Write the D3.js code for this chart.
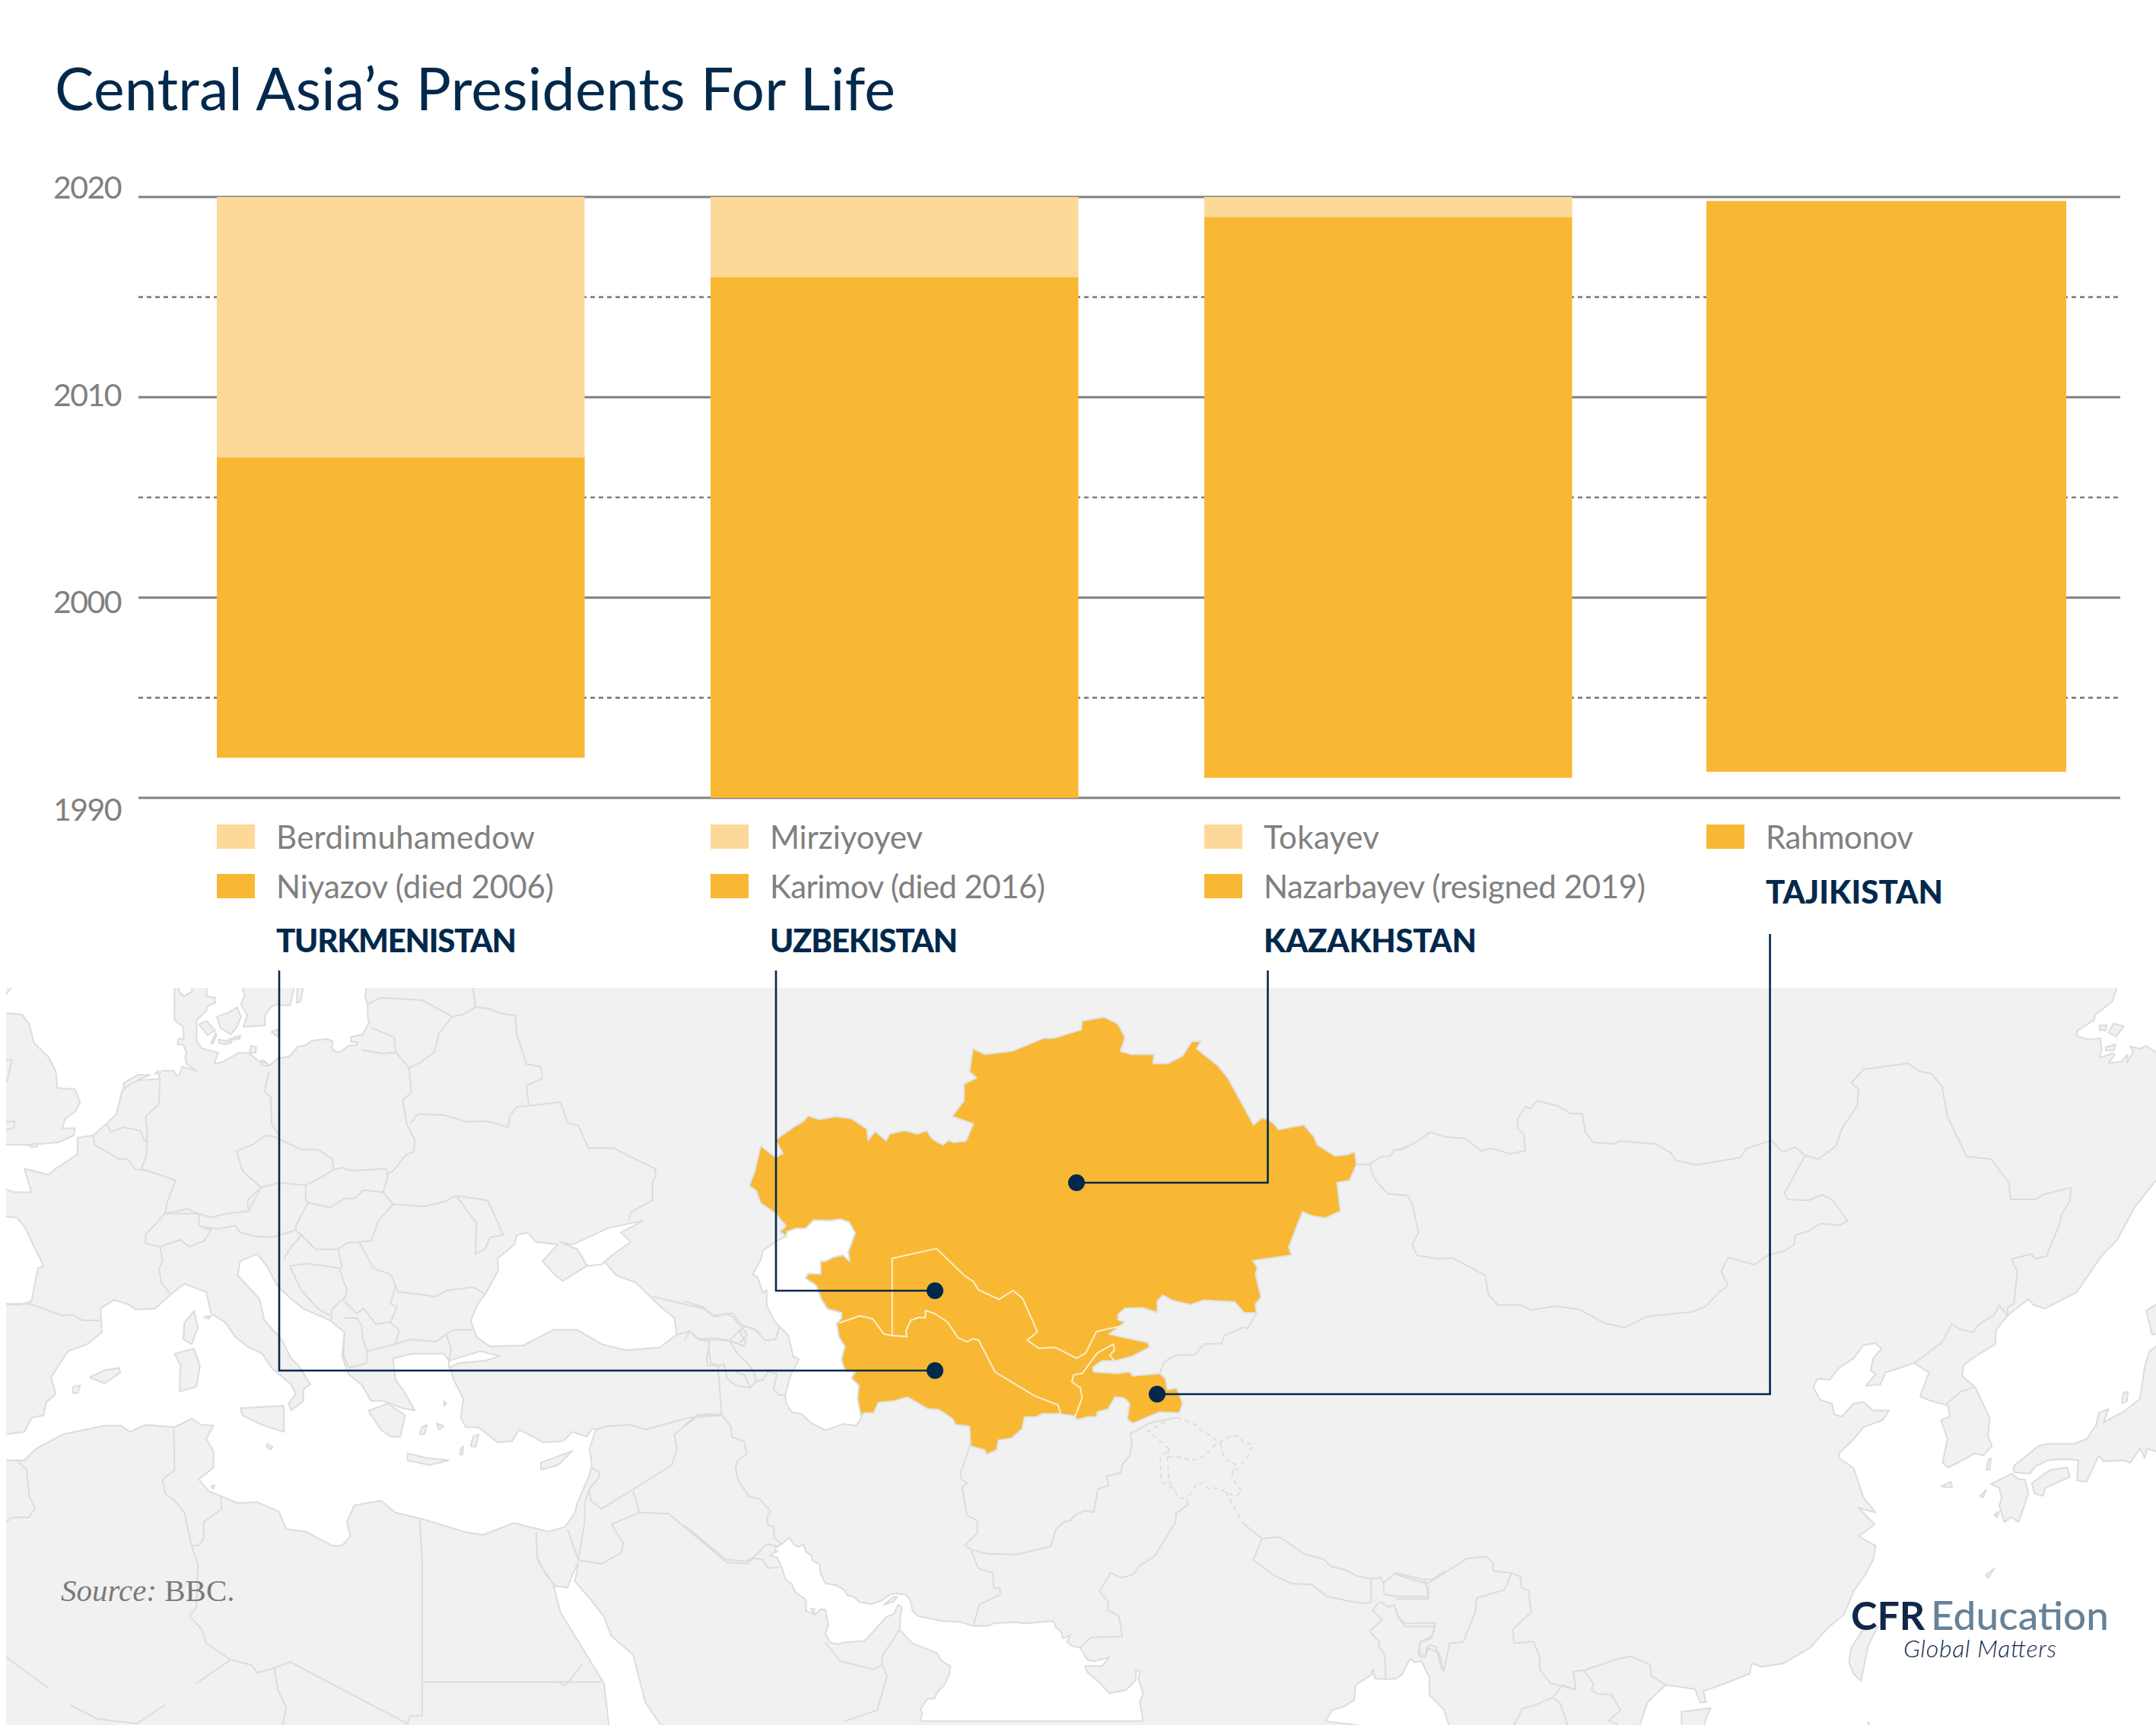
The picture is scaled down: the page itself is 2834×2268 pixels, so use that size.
<!DOCTYPE html>
<html><head><meta charset="utf-8">
<script src="https://cdn.jsdelivr.net/npm/d3@7/dist/d3.min.js"></script>
<style>html,body{margin:0;padding:0;background:#fff}svg{display:block}</style>
</head><body><svg id="c" width="2834" height="2268"></svg>
<script>
// ---------- chart values ----------
const countries=["TURKMENISTAN","UZBEKISTAN","KAZAKHSTAN","TAJIKISTAN"];
const firstLeaders=["Niyazov (died 2006)","Karimov (died 2016)","Nazarbayev (resigned 2019)","Rahmonov"];
const secondLeaders=["Berdimuhamedow","Mirziyoyev","Tokayev",null];
const startYears=[1992,1990,1991,1991.3];
const handoverYears=[2007,2016,2019,2019.8];
const endYears=[2020,2020,2020,null];
const solidTicks=[2020,2010,2000,1990];
const dashedTicks=[2015,2005,1995];
const titleText="Central Asia\u2019s Presidents For Life";

// ---------- map outlines per crop ----------
const frames={
 w:[0,1290,1.568,1.603], e:[1834,1290,1.568,1.603], s:[900,1750,1.568,3.03],
 m:[900,1300,1.65,2.412], nw:[200,1295,3,3], ne:[2600,1295,3,3]};
const seaNorth=[["w","40,14"],["nw","95,12 88,30 88,140 122,165 125,215 105,210 100,235 122,235 135,265 130,285 135,310 175,340 120,322 105,358 95,358 85,338 40,338 25,350 30,370"],
 ["w","270,210 252,230 240,280 220,300 192,325 160,330 160,365 115,395 100,408 50,395 65,445 30,445 13,430 13,345 30,345 60,345 120,340 152,325 155,310 128,310 135,290 155,275 165,255 155,228 118,225 115,190 100,160 70,130 60,90 45,70 13,65"]];
const seaBaltic=[["nw","215,12 215,45 250,50 250,70 215,85 215,100 175,140 175,218 195,250 260,268 245,310 275,305 340,268 380,268 420,300 440,298 462,318 495,290 540,282 575,243 605,238 630,220 690,213 712,222 708,250 725,265 745,262 775,240 808,237 808,225 785,225 785,205 830,195 855,150 850,125 850,75 840,50 850,12 603,12 585,65 570,70 575,12 568,12 545,80 510,80 500,75 470,85 445,120 445,160 360,165 375,120 350,75 365,40 345,12"]];
const seaNotch=[["nw","105,12 105,25 125,45 157,25 157,12"]];
const seaBiscay=[["w","13,495 35,498 52,520 68,555 90,600 78,605 65,675 40,682 13,680"]];
const seaMed=[["w","13,958 50,950 65,920 90,915 95,888 115,870 105,835 140,780 180,765 210,740 207,690 235,672 262,680 280,692 320,690 352,660 380,638 425,655 435,700 465,720 485,750 510,770 540,785 560,815 600,850 610,870 595,890 600,905 625,885 625,860 640,850 615,810 600,795 580,755 545,715 535,670 490,620 495,590 530,575 550,600 570,640 600,670 625,690 680,715 710,740 705,790 715,820 720,830 745,850 765,885 790,885 830,900 855,905 830,860 815,840 810,795 850,785 915,785 925,800 935,840 955,880 950,920 960,940 985,940 1005,955 1025,972 1055,970 1070,945 1120,972 1160,970 1180,950 1210,960 1220,943 1228,945 1215,985 1220,1020 1215,1040 1190,1100 1185,1120 1165,1150 1130,1160 1060,1142 995,1167 955,1160 875,1135 815,1120 785,1095 730,1105 715,1140 722,1170 705,1190 685,1190 630,1160 590,1155 575,1118 530,1098 490,1100 455,1085 430,1075 410,1050 440,1025 440,990 425,965 440,937 415,935 395,922 360,940 300,935 268,950 250,937 215,937 130,955 75,985 50,1010 13,1010"]];
const seaBlack=[["w","1000,660 1027,610 1025,585 1060,555 1065,535 1088,530 1105,550 1150,555 1118,590 1145,620 1160,632 1210,600 1238,595 1245,590 1270,620 1310,635 1360,685 1390,710 1395,745 1360,772 1290,778 1240,765 1190,735 1140,735 1078,768 1010,770 982,750 970,715 985,680"]];
const seaAzov=[["w","1155,550 1180,555 1255,520 1325,505 1280,530 1300,550 1265,575 1240,597 1210,600 1190,565"]];
const seaMarmara=[["w","925,800 990,780 1030,790 1000,800 945,805 925,815"]];
const seaCaspian=[["m","280,733 315,735 337,730 357,740 370,775 355,835 358,865 343,845 322,852 305,865 295,865 295,905 268,903 262,918 285,940 297,985 310,1015 340,1027 340,1045 330,1062 335,1105 348,1135 340,1175 348,1210 370,1215 362,1235 378,1258 375,1300 383,1360 372,1385 345,1380 305,1400 272,1375 255,1350 232,1342 220,1315 218,1288 230,1225 248,1175 235,1165 225,1100 195,1055 178,1005 178,955 170,965 158,915 148,905 165,860 170,830 200,800 220,785 222,770 240,760 262,760"]];
const seaRed=[["w","1105,1210 1125,1250 1145,1275 1170,1278 1180,1250 1192,1225 1185,1265 1215,1300 1245,1340 1260,1380 1305,1420 1320,1480 1330,1520 1380,1568 1258,1568 1245,1480 1200,1405 1155,1330 1140,1270 1110,1225"]];
const seaArabian=[["s","185,880 190,855 200,850 215,822 225,850 235,860 245,850 250,880 262,895 263,915 278,930 280,965 290,1005 310,1012 328,1030 335,1052 350,1060 360,1080 385,1088 410,1070 420,1052 435,1045 455,1050 465,1072 470,1115 480,1135 530,1155 570,1160 595,1175 625,1175 635,1165 680,1160 700,1165 760,1155 765,1180 775,1195 780,1225 795,1210 788,1240 800,1255 815,1262 830,1310 845,1315 875,1300 860,1335 825,1335 830,1360 855,1400 875,1443 910,1430 930,1390 930,1350 938,1355 935,1385 945,1445 938,1480 945,1554 485,1554 490,1520 485,1510 500,1465 515,1465 520,1440 535,1410 545,1370 548,1335 530,1315 520,1283 470,1245 443,1190 445,1130 448,1100 440,1090 432,1125 415,1140 385,1205 370,1235 330,1240 315,1248 300,1240 290,1205 296,1170 290,1110 280,1108 268,1130 250,1115 250,1070 228,1040 220,1005 208,990 200,940 190,900 175,895 192,875"]];
const seaBengal=[["s","1320,1554 1335,1510 1360,1495 1380,1470 1383,1410 1415,1370 1418,1348 1423,1385 1445,1388 1465,1385 1478,1370 1495,1305 1505,1320 1518,1315 1535,1380 1535,1450"],["e","100,1535 120,1568"]];
const seaOkhotsk=[["ne","560,12 530,65 462,118 458,138 390,182 392,202 435,215 483,210 488,255 478,287 530,270 540,275 515,308 565,303 590,275 588,305 612,265 600,243 640,252 662,240 702,295 702,12"]];
const seaEast=[["e","1568,390 1560,430 1525,475 1488,545 1455,580 1405,655 1340,690 1315,682 1305,670 1262,705 1238,735 1237,765 1205,785 1172,808 1168,832 1195,855 1225,920 1222,960 1230,980 1212,1000 1195,995 1165,1012 1140,1025 1128,1015 1138,965 1125,925 1143,918 1140,895 1135,893 1105,885 1082,875 1100,825 1070,805 1010,825 1000,850 970,853 990,828 980,820 985,795 1002,775 990,763 965,767 945,795 915,815 895,840 870,838 862,855 875,882 900,890 905,913 920,918 945,890 965,887 985,905 1018,905 1005,925 965,940 945,965 915,995 915,1005 945,1027 965,1088 990,1120 955,1110 988,1145 975,1155 955,1170 990,1190 985,1220 968,1252 945,1285 925,1335 895,1360 875,1382 855,1405 800,1438 755,1445 735,1438 730,1460 680,1480 640,1495 635,1495 640,1520 628,1520 618,1492 558,1483 545,1495 520,1520 495,1568 1568,1568"]];
const seas=[seaNorth,seaBaltic,seaNotch,seaBiscay,seaMed,seaBlack,seaAzov,seaMarmara,seaCaspian,seaRed,seaArabian,seaBengal,seaOkhotsk,seaEast];

const islands=[
 ["nw","255,125 300,110 335,88 350,125 335,165 310,195 270,170"],["nw","185,155 215,142 248,180 218,198"],
 ["nw","232,230 250,190 253,200 240,230"],["nw","262,215 297,222 295,235 265,230"],["nw","300,215 318,212 308,232"],
 ["nw","322,207 348,200 345,212 325,215"],["nw","470,185 497,175 497,205"],["nw","390,240 410,245 408,268 385,268"],
 ["nw","428,305 455,308 457,320 430,315"],["nw","12,350 25,338 22,348 10,352"],
 ["w","13,170 25,165 15,210 13,210"],["w","13,300 30,295 28,310 13,320"],["w","60,345 78,342 76,349 62,349"],
 ["w","255,215 285,197 310,198 290,205 265,220 255,228"],
 ["w","380,720 400,695 408,730 395,765 378,755"],["w","360,785 400,775 412,810 405,855 370,865 372,810"],
 ["w","495,900 585,895 585,950 540,935 500,915"],["w","185,835 215,820 245,815 248,825 215,848"],["w","150,855 165,852 160,868 150,868"],
 ["w","760,905 800,890 835,915 825,960 805,960 785,945 765,915"],["w","840,995 880,1005 925,1010 885,1020 840,1010"],
 ["w","1115,1015 1180,990 1150,1020 1115,1030"],["w","950,985 955,980 953,998 948,998"],["w","975,960 987,955 980,982 970,980"],
 ["w","870,940 880,935 875,955 865,955"],["w","900,932 915,938 905,945"],["w","915,885 920,890 915,895"],
 ["w","420,708 435,705 430,712"],["w","550,975 562,982 558,987 550,982"],["w","435,1065 442,1062 440,1070"],
 ["e","1275,1022 1325,980 1345,975 1400,975 1425,965 1445,935 1450,910 1470,902 1460,930 1505,905 1535,880 1545,810 1555,780 1568,750 1568,1000 1550,985 1545,1005 1535,985 1515,1015 1500,1010 1460,1012 1450,1000 1425,1055 1405,1052 1408,1010 1380,1007 1345,1010 1320,1022 1308,1038 1275,1035"],
 ["e","1568,665 1548,695 1560,745 1568,740"],["e","1312,1058 1350,1030 1385,1025 1390,1045 1340,1068 1335,1085 1318,1080"],
 ["e","1228,1060 1270,1038 1285,1050 1298,1050 1305,1080 1285,1140 1270,1130 1255,1140 1245,1105 1250,1090 1245,1068"],
 ["e","1125,1065 1145,1055 1148,1067"],["e","1222,1010 1228,1005 1225,1030 1218,1030"],["e","1500,868 1510,865 1508,885 1498,890"],
 ["e","962,1370 995,1360 975,1400 960,1475 945,1460 935,1435 940,1405"],["e","1218,1250 1235,1238 1222,1258"],
 ["e","590,1540 650,1532 640,1555 630,1568 590,1568"],["e","975,1562 985,1565 980,1568"],
 ["e","1205,1085 1218,1072 1212,1088"],["e","1235,1125 1245,1118 1240,1130"],
 ["ne","480,160 508,158 503,180 480,178"],["ne","535,152 575,163 545,203 513,188"],["ne","505,245 542,235 537,258 503,258"],
 ["s","410,1090 432,1058 438,1060 430,1078"],["s","260,1105 268,1108 266,1130"]];

const borders=[
 // Europe
 ["w","13,680 60,680 130,705 150,703 170,715 205,715"],
 ["w","192,325 195,345 245,375 262,375 280,397 305,400 362,420 345,465 340,490 300,535 300,552 330,560 335,590 328,605 332,635 352,660"],
 ["w","220,300 228,318 255,308 290,315 297,335 303,340 303,310 300,285 327,260 330,205"],["w","305,400 292,395 302,365 303,340"],
 ["w","330,560 372,545 390,560 420,548 435,525 410,515 410,490 340,490"],["w","340,490 385,480 410,490 435,498 465,490 512,485 510,462 538,435 500,400 487,358 520,345 548,325 575,330"],
 ["w","555,190 545,232 558,245 560,300 575,325"],["w","420,518 450,522 485,515 495,530 527,538 560,540 608,525 622,535 650,565 697,565 715,552 740,550"],
 ["w","512,485 538,435 575,425 630,430 660,415 688,397 705,393 725,400 795,395 800,408 790,445"],
 ["w","575,333 620,355 655,355 685,375 688,397"],
 ["w","816,150 843,183 848,235 830,250 838,300 855,335 853,360 838,365 810,400 795,408"],
 ["w","845,300 862,280 915,282 960,296 1005,295 1048,308 1050,285 1065,265 1095,262 1155,255 1170,298 1192,305 1213,352 1265,352 1295,368 1350,395 1352,412 1345,422 1345,462 1300,487 1296,505"],
 ["w","932,75 905,110 895,150 865,172 843,183"],["w","932,75 955,70 980,55 1010,58 1030,68 1062,72 1065,112 1085,175 1115,180 1118,205 1085,220 1090,262"],
 ["w","755,50 785,35 870,40 932,75"],["w","975,14 980,55"],["w","745,145 790,153 816,150 812,118 765,98"],
 ["w","940,452 1005,462 1020,495 1037,535 1010,540 1000,565 980,575 982,510 940,452"],["w","810,470 875,475 915,465 940,452"],
 ["w","790,445 810,470 780,505 765,547 740,550"],["w","630,430 630,460 635,467 680,477 710,458 730,458 750,440 790,445"],
 ["w","635,467 610,515 610,527 622,535 600,560 585,585"],["w","597,600 635,595 700,605 707,630 715,650 712,665 685,690 682,715"],["w","697,565 705,605"],
 ["w","597,600 620,650 655,690 680,705"],["w","740,550 770,605 805,618 815,640 805,680 818,685 805,720"],
 ["w","707,672 735,700 750,690 775,723 805,718"],["w","710,710 735,710 745,725 748,755 757,780 815,765 823,735 805,720"],
 ["w","710,740 708,790 720,815 755,805 757,780"],["w","815,765 845,755 900,760 918,745 935,735 975,735"],["w","815,640 820,655 865,660 897,665 920,652 975,645 1000,660"],
 ["w","920,745 930,775 925,800"],
 // Middle East and Africa
 ["w","1228,945 1250,938 1300,935 1330,945 1420,920 1487,915"],["w","1345,665 1450,690 1470,705 1510,700 1530,725 1568,740"],
 ["w","1395,745 1422,738 1440,755 1500,757 1535,770"],["w","1530,730 1540,745 1525,762"],["w","1460,770 1465,805 1485,812"],
 ["w","1487,915 1462,912 1440,915 1390,955 1395,985 1385,1020 1240,1112 1218,1095 1215,1070"],
 ["w","1305,1075 1318,1120 1378,1122 1498,1225 1540,1228 1568,1200"],["w","1318,1120 1260,1145 1285,1185 1280,1205 1240,1228 1192,1220"],
 ["w","1218,1025 1235,1035 1235,1045 1215,1070 1205,1100 1205,1140 1192,1220"],["w","1170,1155 1192,1220"],
 ["w","1105,1160 1107,1210"],
 ["w","865,1135 870,1220 870,1477 1240,1477"],["w","1150,1477 1165,1485 1200,1440"],
 ["w","358,945 360,1030 335,1050 340,1080 360,1095 380,1120 395,1190 408,1190 420,1175 420,1140 457,1112 455,1085"],
 ["w","395,1190 408,1230 405,1320 390,1338 415,1365 425,1395 475,1430 520,1442 530,1458 565,1448 598,1435 840,1565 845,1548 870,1548 870,1477"],
 ["w","475,1430 405,1480"],["w","340,1525 283,1565 200,1555 145,1525"],["w","13,1425 100,1490"],["w","565,1448 573,1495 590,1530 583,1568"],
 ["w","35,1010 55,1030 60,1085 72,1110 60,1130 25,1130 13,1140"],
 // Caucasus and Iran
 ["m","0,990 40,1010 65,1040 90,1030 105,1042 120,1068 150,1078 175,1115 197,1112 205,1075"],
 ["m","0,1115 10,1085 28,1110 65,1108 97,1115 125,1075 120,1090 133,1120 128,1132 97,1115 118,1165 135,1183 150,1215 155,1245 142,1265 110,1257 92,1235 85,1190 72,1195 50,1195 48,1170 55,1120 28,1110"],
 ["m","155,1245 170,1240 180,1215 200,1220 193,1268 205,1288 218,1288"],["m","110,1215 130,1225 142,1265"],["m","72,1195 80,1350"],
 ["s","0,375 25,335 60,337 75,330 95,380 97,422 123,440 128,490 110,515 105,545 110,595 133,660 153,668 177,717 170,745 172,772 183,778 185,825 200,850"],
 ["s","0,775 85,910 125,918 140,905 170,848 195,860"],["s","140,905 160,910 172,945 195,940"],
 ["s","290,1240 320,1315 388,1348 407,1330 407,1295 443,1190"],["s","407,1330 417,1375 397,1510 330,1554"],
 ["s","588,455 568,570 570,590 582,605 572,625 582,735 603,755 603,805 578,852 590,870 605,945 635,965 637,1025 650,1025 650,1050 607,1090 595,1175"],
 ["s","1015,345 960,365 918,410 922,445 917,497 903,530 898,565 870,578 873,615 852,630 843,722 823,716 803,735 795,755 782,760 765,790 755,857 685,890 622,887 590,870"],
 ["s","1035,670 1037,692 1013,725 1012,760 970,893 935,940 925,970 900,983 878,963 855,1038 873,1078 872,1112 895,1135 902,1217 838,1220 815,1262"],
 ["s","1150,765 1190,827 1172,912 1218,977 1252,1007 1292,1010 1325,1058 1375,1078 1408,1085 1415,1075 1415,988 1435,982 1440,1005 1465,963 1522,990 1540,990 1568,955"],
 ["s","1190,827 1225,820 1277,888 1318,910 1332,938 1362,952 1385,975 1415,988"],
 ["s","1440,1005 1442,1050 1470,1058 1532,1058 1530,1018 1522,990"],
 ["s","1418,1112 1430,1082 1437,1082 1450,1100 1462,1093 1472,1140 1485,1165 1548,1163 1540,1215 1515,1238 1515,1285 1528,1292 1535,1250 1548,1258 1560,1345 1568,1350"],
 ["s","1418,1112 1438,1150 1412,1195 1432,1240 1430,1255 1443,1290 1445,1388"],
 // Central Asia neighbours, Russia, China, Mongolia
 ["m","1240,1030 1220,1078 1212,1073 1170,1100 1165,1125 1125,1127 1108,1160 1065,1162 1040,1183 1030,1220"],
 ["m","1457,557 1485,557 1510,533 1530,530 1540,510 1555,508 1568,497"],["m","1485,557 1498,607 1525,650 1568,655"],
 ["e","0,355 15,355 50,335 72,318 102,328 145,332 178,358 197,352 236,364 268,358 265,322 252,310 252,290 268,265 280,268 292,252 335,263 362,279 385,279 392,318 408,340 448,343 463,337 537,343 568,362 578,378 622,387 712,372 722,354 775,335 799,360 824,350 845,367 872,375 908,348 920,312 952,262 955,228 940,214 965,186 1057,173 1080,190 1105,195 1127,222 1138,285 1178,370 1228,375 1265,425 1268,460 1320,460 1335,450 1393,435 1390,465 1373,492 1370,510 1342,580 1320,585 1310,575 1270,586 1282,612 1275,680 1262,688 1262,705"],
 ["e","845,367 802,448 810,460 852,462 880,450 902,462 932,505 918,514 876,511 852,527 824,535 822,555 800,570 770,576 740,598 686,582 672,612 686,642 668,655 640,685 612,697 522,706 472,730 430,720 380,692 330,685 280,693 258,682 212,683 192,660 185,620 118,583 88,585 45,578 35,555 48,530 35,470 25,452 0,450"],
 ["e","1070,805 1128,760 1147,722 1162,733 1192,740 1200,725 1235,703 1245,683 1262,705"],["e","1135,893 1165,865 1195,855"],
 ["e","0,1250 58,1268 70,1268 148,1217 187,1213 202,1225 202,1243 240,1247 258,1255 260,1278 275,1285 280,1330 242,1367 245,1395 285,1392 298,1425 298,1450 320,1480 372,1493 367,1455 390,1452 420,1442 460,1428 485,1423 525,1440 528,1465 558,1483"],
 ["e","0,1302 68,1302 68,1275"],["e","168,1300 225,1283 240,1247"],
 ["e","168,1300 165,1330 140,1393 112,1395 100,1455 90,1415 65,1405 62,1425 48,1422 50,1395 75,1385 82,1360 20,1360 5,1340 0,1320"],
 ["e","345,1483 325,1510 285,1527 262,1533 245,1568"],["e","345,1483 372,1493"],["e","325,1510 340,1522 355,1568"],
 ["e","388,1452 408,1480 405,1495 420,1503 445,1503 465,1537 440,1558 460,1568"]];
const dashedBorders=[
 ["s","1015,345 1050,370 1065,395 1090,425 1105,450"],["s","990,360 955,400 975,430 998,470 980,510 982,600 1010,630 1015,660 1035,670"],
 ["s","998,470 995,500 1030,505 1040,518 1070,500 1095,450 1130,415 1145,420 1150,445 1170,450 1160,500 1140,550 1128,560 1130,590 1148,640 1135,660 1115,640 1095,625 1080,630 1068,605 1055,610 1045,640 1035,670"],
 ["s","995,500 998,600 1010,630"],["s","1115,640 1150,765"],["s","1105,450 1112,510 1135,530 1128,560"]];

const centralAsia=["m","197,480 235,440 258,420 268,403 292,415 328,405 362,412 395,445 398,480 413,452 437,482 445,460 477,450 505,460 525,450 538,478 560,495 573,480 583,487 610,483 626,428 580,405 606,355 606,302 633,283 618,263 625,190 652,208 712,197 778,157 800,157 860,130 862,102 910,90 940,112 955,155 945,198 968,208 1018,208 1016,237 1048,237 1080,213 1100,167 1120,167 1110,190 1157,245 1178,283 1234,432 1252,410 1265,415 1278,428 1288,447 1343,432 1365,470 1372,495 1410,530 1435,527 1453,517 1457,557 1442,608 1415,615 1422,705 1390,727 1360,720 1340,707 1310,820 1316,845 1232,862 1242,885 1238,905 1250,978 1238,1000 1240,1028 1213,1027 1193,993 1125,988 1097,1002 1058,988 1037,972 1025,990 1025,1027 993,1012 955,1013 940,1033 940,1050 955,1057 920,1095 1005,1122 1008,1137 968,1167 933,1180 905,1180 885,1200 887,1215 937,1220 965,1215 972,1228 1030,1220 1042,1235 1047,1272 1067,1267 1080,1315 1073,1345 1030,1342 972,1378 960,1365 965,1315 952,1297 933,1295 918,1333 895,1342 893,1358 875,1357 850,1367 847,1355 815,1348 775,1348 762,1358 737,1358 732,1395 710,1425 680,1432 677,1462 655,1477 650,1462 620,1450 618,1388 587,1382 582,1365 552,1335 527,1332 483,1295 455,1307 420,1312 410,1345 388,1345 383,1358 375,1300 378,1258 362,1235 370,1215 348,1210 340,1175 348,1135 335,1105 330,1062 340,1045 340,1027 310,1015 297,985 285,940 262,918 268,903 295,905 295,865 305,865 322,852 343,845 358,865 355,835 370,775 357,740 337,730 315,735 280,733 262,760 240,760 222,770 220,785 207,770 220,752 197,712 165,680 155,640 140,625 152,580 165,498 197,535 213,522"];
const innerBorders=[
 "335,1060 380,1037 408,1047 432,1095 450,1100 482,1103 480,1085 490,1052 508,1042 522,1043 522,1020 542,1030 570,1057 593,1107 613,1120 625,1110 637,1113 673,1215 760,1292 810,1320 815,1348",
 "450,1100 450,855 546,824 607,910 626,928 637,955 682,985 712,957 733,982 765,1088 743,1115 768,1140 803,1137 850,1172 870,1155 893,1087 945,1070",
 "847,1355 862,1298 858,1265 840,1247 843,1225 862,1220 895,1155 930,1127 932,1147 922,1162 932,1180"];

// leader lines: start on the label column, run down and across to the dot
const leaderRoutes=[
 {x:367,top:1276,dotX:1229,dotY:1802},{x:1020,top:1276,dotX:1229,dotY:1697},
 {x:1666.5,top:1276,dotX:1415,dotY:1555},{x:2326.6,top:1228,dotX:1521,dotY:1833}];

// measured label widths so that the substitute font spans what the original spans
const firstWidths=[365,362,502,194], secondWidths=[340,201,152,0], countryWidths=[316,247,280,233];

// ---------- helpers ----------
const toPts=(f,str)=>{const [x0,y0,sx,sy]=frames[f];
 const X=d3.scaleLinear().domain([0,sx]).range([x0,x0+1]),Y=d3.scaleLinear().domain([0,sy]).range([y0,y0+1]);
 return str.trim().split(/\s+/).map(p=>{const [a,b]=p.split(",").map(Number);return [X(a),Y(b)];});};
// push any vertex on the map's edge out past the clip so the edge never draws as a coast
const pushOut=pts=>pts.map(([a,b])=>[a<=9?-10:a>=2833?2850:a, b<=1300?1285:b>=2266?2285:b]);
const ring=parts=>pushOut(parts.flatMap(([f,s])=>toPts(f,s)));
const line=d3.line(), closed=d3.line().curve(d3.curveLinearClosed);

const svg=d3.select("#c");
const NAVY="#02294c",GREY="#808080",ORANGE="#f8b833",PALE="#fcd999",LAND="#f1f1f1",EDGE="#dcdcdc";
const SANS="Lato, 'Noto Sans', sans-serif";

// ---------- scales ----------
const y=d3.scaleLinear().domain([1990,2020]).range([1049,259]);
const tickLabelY=d3.scaleLinear().domain([1990,2020]).range([1079,261]);
const x=d3.scaleBand().domain(countries).range([285,2715.5]).paddingInner(0.255).paddingOuter(0);
const colShift=d=>d==="TAJIKISTAN"?11:0;
const colWidth=d=>d==="TAJIKISTAN"?473:x.bandwidth();

// ---------- map ----------
const mapG=svg.append("g");
svg.append("defs").append("clipPath").attr("id","mapClip").append("rect").attr("x",8).attr("y",1299).attr("width",2826).attr("height",969);
mapG.attr("clip-path","url(#mapClip)");
mapG.append("rect").attr("x",8).attr("y",1299).attr("width",2826).attr("height",969).attr("fill",LAND);
mapG.selectAll("path.sea").data(seas).join("path").attr("class","sea")
 .attr("d",d=>closed(ring(d))).attr("fill","#fff").attr("stroke",EDGE).attr("stroke-width",2).attr("stroke-linejoin","round");
mapG.selectAll("path.isle").data(islands).join("path").attr("class","isle")
 .attr("d",d=>closed(pushOut(toPts(d[0],d[1])))).attr("fill",LAND).attr("stroke",EDGE).attr("stroke-width",2).attr("stroke-linejoin","round");
mapG.selectAll("path.bd").data(borders).join("path").attr("class","bd")
 .attr("d",d=>line(toPts(d[0],d[1]))).attr("fill","none").attr("stroke",EDGE).attr("stroke-width",2).attr("stroke-linejoin","round");
mapG.selectAll("path.dash").data(dashedBorders).join("path").attr("class","dash")
 .attr("d",d=>line(toPts(d[0],d[1]))).attr("fill","none").attr("stroke",EDGE).attr("stroke-width",1.8).attr("stroke-dasharray","6,5");
mapG.append("path").attr("d",closed(toPts(centralAsia[0],centralAsia[1]))).attr("fill",ORANGE)
 .attr("stroke","#dfe1e6").attr("stroke-width",2).attr("stroke-linejoin","round");
mapG.selectAll("path.inner").data(innerBorders).join("path").attr("class","inner")
 .attr("d",d=>line(toPts("m",d))).attr("fill","none").attr("stroke","#fbeed0").attr("stroke-width",2).attr("stroke-linejoin","round");

// ---------- grid ----------
svg.selectAll("line.solid").data(solidTicks).join("line").attr("class","solid")
 .attr("x1",182).attr("x2",2787).attr("y1",y).attr("y2",y).attr("stroke",GREY).attr("stroke-width",3);
svg.selectAll("line.dash").data(dashedTicks).join("line").attr("class","dash")
 .attr("x1",182).attr("x2",2787).attr("y1",y).attr("y2",y).attr("stroke",GREY).attr("stroke-width",2.6).attr("stroke-dasharray","6,5");
svg.selectAll("text.tick").data(solidTicks).join("text").attr("class","tick")
 .attr("x",70).attr("y",tickLabelY).attr("fill",GREY).attr("font-family",SANS).attr("font-size",41).attr("letter-spacing",-1.5).text(d=>d);

// ---------- bars ----------
const rows=countries.map((c,i)=>({c,i,start:startYears[i],hand:handoverYears[i],end:endYears[i]}));
svg.selectAll("rect.second").data(rows.filter(r=>r.end!==null)).join("rect").attr("class","second")
 .attr("x",d=>x(d.c)+colShift(d.c)).attr("width",d=>colWidth(d.c))
 .attr("y",d=>y(d.end)).attr("height",d=>y(d.hand)-y(d.end)).attr("fill",PALE);
svg.selectAll("rect.first").data(rows).join("rect").attr("class","first")
 .attr("x",d=>x(d.c)+colShift(d.c)).attr("width",d=>colWidth(d.c))
 .attr("y",d=>y(d.hand)).attr("height",d=>y(d.start)-y(d.hand)).attr("fill",ORANGE);

// ---------- legends ----------
const rowY=[1116,1181], capY=1252, tajCapY=1188;
rows.forEach(r=>{
 const lx=x(r.c)+colShift(r.c);
 const two=secondLeaders[r.i]!==null;
 const entries=two?[[secondLeaders[r.i],PALE,rowY[0],secondWidths[r.i]],[firstLeaders[r.i],ORANGE,rowY[1],firstWidths[r.i]]]:[[firstLeaders[r.i],ORANGE,rowY[0],firstWidths[r.i]]];
 entries.forEach(([t,col,by,w])=>{
  svg.append("rect").attr("x",lx).attr("y",by-32).attr("width",50).attr("height",32).attr("fill",col);
  svg.append("text").attr("x",lx+78).attr("y",by).attr("fill",GREY).attr("font-family",SANS).attr("font-size",42)
   .attr("textLength",w).attr("lengthAdjust","spacing").text(t);
 });
 svg.append("text").attr("x",lx+78).attr("y",two?capY:tajCapY).attr("fill",NAVY).attr("font-family",SANS)
  .attr("font-weight",900).attr("font-size",42).attr("textLength",countryWidths[r.i]).attr("lengthAdjust","spacing").text(r.c);
});

// ---------- leaders ----------
svg.selectAll("path.leader").data(leaderRoutes).join("path").attr("class","leader")
 .attr("d",d=>line([[d.x,d.top],[d.x,d.dotY],[d.dotX,d.dotY]])).attr("fill","none").attr("stroke",NAVY).attr("stroke-width",2.6);
svg.selectAll("circle.dot").data(leaderRoutes).join("circle").attr("class","dot")
 .attr("cx",d=>d.dotX).attr("cy",d=>d.dotY).attr("r",11).attr("fill",NAVY);

// ---------- text ----------
svg.append("text").attr("x",72).attr("y",145).attr("fill",NAVY).attr("font-family",SANS).attr("font-size",77).attr("textLength",1105).attr("lengthAdjust","spacing").text(titleText);
const src=svg.append("text").attr("x",80).attr("y",2105).attr("fill","#7a7a7a").attr("font-family","'Liberation Serif', serif").attr("font-size",41);
src.append("tspan").attr("font-style","italic").text("Source:");
src.append("tspan").text(" BBC.");
svg.append("text").attr("x",2433).attr("y",2143).attr("font-family",SANS).attr("font-size",52).attr("font-weight",700).attr("fill","#11274a").text("CFR");
svg.append("text").attr("x",2538).attr("y",2143).attr("font-family",SANS).attr("font-size",53).attr("font-weight",500).attr("fill","#658299").attr("textLength",234).attr("lengthAdjust","spacing").text("Education");
svg.append("text").attr("x",2502).attr("y",2179).attr("fill","#11274a").attr("font-family",SANS).attr("font-style","italic").attr("font-weight",300).attr("font-size",32).attr("textLength",201).attr("lengthAdjust","spacing").text("Global Matters");
</script></body></html>
